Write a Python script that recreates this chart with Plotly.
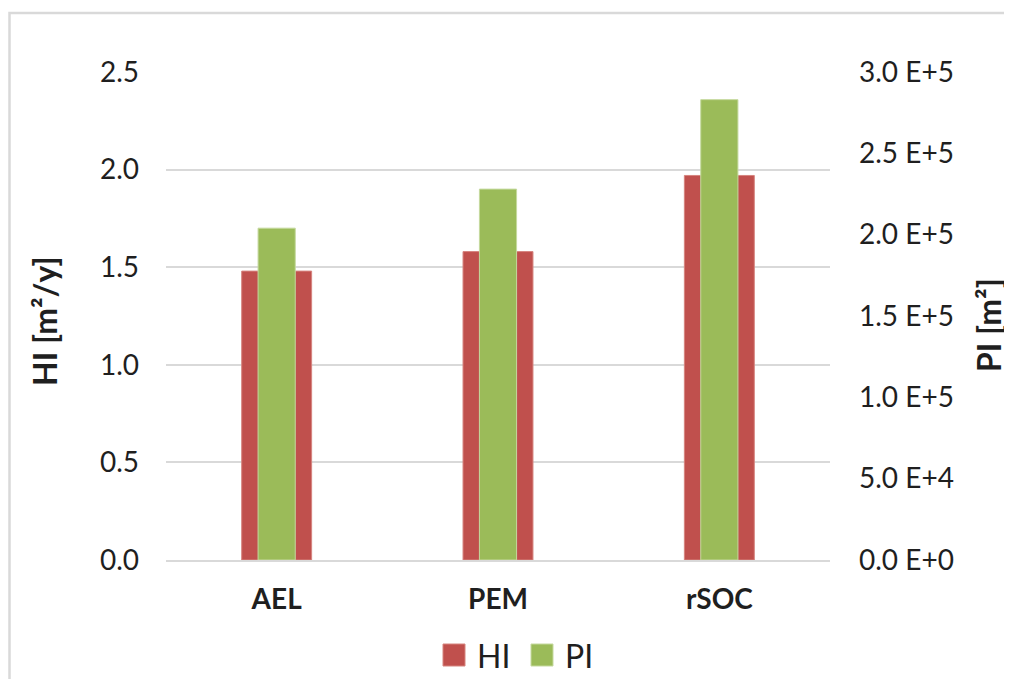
import plotly.graph_objects as go

categories = ["AEL", "PEM", "rSOC"]
hi_name = "HI"
pi_name = "PI"
hi_values = [1.48, 1.58, 1.97]
pi_values = [204000, 228000, 283000]

left_ticks = [0, 0.5, 1.0, 1.5, 2.0, 2.5]
right_ticks = [0, 50000, 100000, 150000, 200000, 250000, 300000]
right_ticklabels = ["0.0 E+0", "5.0 E+4", "1.0 E+5", "1.5 E+5", "2.0 E+5", "2.5 E+5", "3.0 E+5"]

# page body adds an 8px margin; work in reference pixel coordinates and subtract it
OFF = 8
W, H = 1012 - 2 * OFF, 679 - OFF
L, R, T, B = 166 - OFF, 830 - OFF, 72 - OFF, 560 - OFF

def px(x):
    return (x - OFF - L) / (R - L)

def py(y):
    return (B - (y - OFF)) / (B - T)

RED = "#C0504D"
GREEN = "#9BBB59"
FONT = "Lato"
TXT = "#1f1f1f"

fig = go.Figure()
fig.add_trace(go.Bar(x=categories, y=hi_values, name=hi_name, width=0.316,
                     marker=dict(color=RED, line=dict(color="#D6847F", width=1)),
                     yaxis="y", showlegend=False))
fig.add_trace(go.Bar(x=categories, y=pi_values, name=pi_name, width=0.168,
                     marker=dict(color=GREEN, line=dict(color="#C5D99F", width=1)),
                     yaxis="y2", showlegend=False))

shapes = [
    # outer chart border
    dict(type="rect", xref="paper", yref="paper",
         x0=px(9.5), x1=px(1100), y0=py(13), y1=py(760),
         line=dict(color="#D9D9D9", width=2.5), fillcolor="rgba(0,0,0,0)", layer="below"),
    # legend swatches
    dict(type="rect", xref="paper", yref="paper",
         x0=px(443), x1=px(465), y0=py(644), y1=py(666),
         line=dict(color="#D6847F", width=1), fillcolor=RED),
    dict(type="rect", xref="paper", yref="paper",
         x0=px(531), x1=px(553), y0=py(644), y1=py(666),
         line=dict(color="#C5D99F", width=1), fillcolor=GREEN),
]

annotations = [
    dict(text="HI [m²/y]", xref="paper", yref="paper", x=px(44), y=py(321),
         textangle=-90, showarrow=False, xanchor="center", yanchor="middle",
         font=dict(family=FONT, size=32, color=TXT, weight="bold")),
    dict(text="PI [m²]", xref="paper", yref="paper", x=px(988), y=py(325),
         textangle=-90, showarrow=False, xanchor="center", yanchor="middle",
         font=dict(family=FONT, size=32, color=TXT, weight="bold")),
    dict(text=hi_name, xref="paper", yref="paper", x=px(475), y=py(655),
         showarrow=False, xanchor="left", yanchor="middle",
         font=dict(family=FONT, size=32, color=TXT)),
    dict(text=pi_name, xref="paper", yref="paper", x=px(563), y=py(655),
         showarrow=False, xanchor="left", yanchor="middle",
         font=dict(family=FONT, size=32, color=TXT)),
]

fig.update_layout(
    width=W, height=H,
    margin=dict(l=L, r=W - R, t=T, b=H - B, pad=0),
    paper_bgcolor="white", plot_bgcolor="white",
    barmode="overlay",
    font=dict(family=FONT, color=TXT),
    showlegend=False,
    xaxis=dict(type="category", showgrid=False, showline=True, linecolor="#D9D9D9", linewidth=1.5,
               ticks="", tickfont=dict(family=FONT, size=28, color=TXT, weight="bold"),
               ticklabelstandoff=14, zeroline=False),
    yaxis=dict(range=[0, 2.5], tickvals=left_ticks, tickformat=".1f",
               showgrid=True, gridcolor="#D9D9D9", gridwidth=1.5, zeroline=False,
               showline=False, ticks="", tickfont=dict(family=FONT, size=28, color=TXT),
               ticklabelstandoff=26),
    yaxis2=dict(range=[0, 300000], overlaying="y", side="right",
                tickvals=right_ticks, ticktext=right_ticklabels,
                showgrid=False, zeroline=False, showline=False, ticks="",
                tickfont=dict(family=FONT, size=28, color=TXT), ticklabelstandoff=28),
    shapes=shapes,
    annotations=annotations,
)

fig.write_html("out.html")
